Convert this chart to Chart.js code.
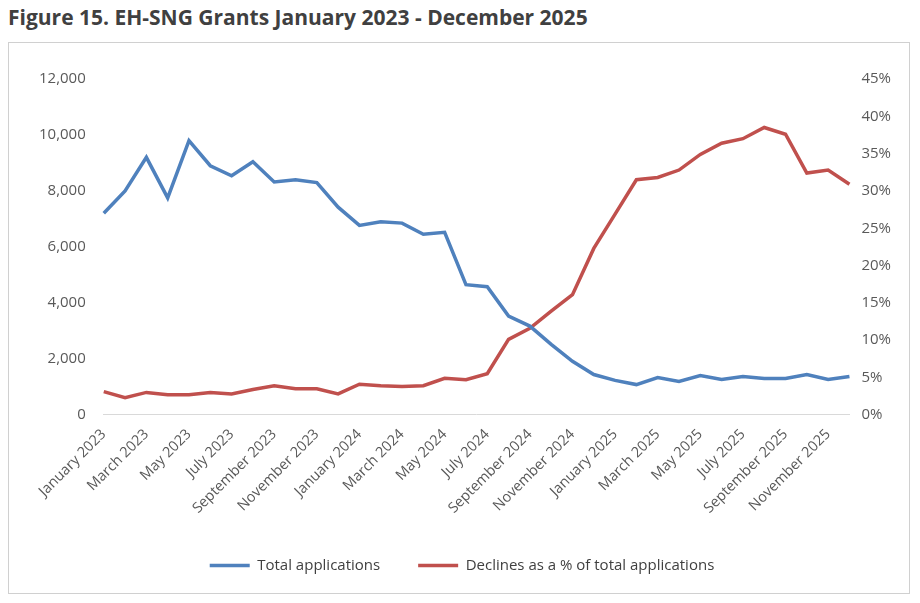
<!DOCTYPE html>
<html>
<head>
<meta charset="utf-8">
<script src="https://cdn.jsdelivr.net/npm/chart.js@4"></script>
<style>
  body { margin: 0; background: #fff; font-family: "Open Sans", sans-serif; }
  h1 { margin: 0; position: absolute; left: 8px; top: 3px; font-size: 21px; font-weight: bold; color: #404040; }
  .frame { position: absolute; left: 8px; top: 42px; width: 902px; height: 552px; border: 1px solid #d0d0d0; box-sizing: border-box; }
</style>
</head>
<body>
<h1>Figure 15. EH-SNG Grants January 2023 - December 2025</h1>
<div class="frame"><canvas id="chart"></canvas></div>
<script>
const months = ['January','February','March','April','May','June','July','August','September','October','November','December'];
const labels = [];
[2023, 2024, 2025].forEach(y => months.forEach(m => labels.push(m + ' ' + y)));

const totalApplications = [7200, 8000, 9200, 7750, 9800, 8900, 8540, 9040, 8320, 8400, 8300, 7420,
  6770, 6900, 6850, 6450, 6520, 4650, 4580, 3530, 3170, 2520, 1910, 1440,
  1230, 1080, 1330, 1190, 1400, 1260, 1370, 1300, 1300, 1440, 1260, 1370];
const declinesPct = [3.1, 2.3, 3.0, 2.7, 2.7, 3.0, 2.8, 3.4, 3.9, 3.5, 3.5, 2.8,
  4.1, 3.9, 3.8, 3.9, 4.9, 4.7, 5.5, 10.1, 11.6, 13.9, 16.1, 22.3,
  26.9, 31.5, 31.8, 32.8, 34.9, 36.4, 37.0, 38.5, 37.6, 32.4, 32.8, 30.9];

const canvas = document.getElementById('chart');
canvas.width = 900; canvas.height = 550;
canvas.style.width = '900px'; canvas.style.height = '550px';

new Chart(canvas, {
  type: 'line',
  data: {
    labels: labels,
    datasets: [{
      label: 'Total applications',
      data: totalApplications,
      borderColor: '#4f81bd',
      backgroundColor: '#4f81bd',
      borderWidth: 3.5,
      pointRadius: 0,
      yAxisID: 'y'
    }, {
      label: 'Declines as a % of total applications',
      data: declinesPct,
      borderColor: '#c0504d',
      backgroundColor: '#c0504d',
      borderWidth: 3.5,
      pointRadius: 0,
      yAxisID: 'y1'
    }]
  },
  options: {
    responsive: false,
    animation: false,
    layout: { padding: { left: 20, right: 14, top: 36, bottom: 10 } },
    plugins: {
      legend: {
        position: 'bottom',
        labels: {
          font: { size: 15, family: 'Open Sans' }, color: '#404040',
          boxWidth: 40, boxHeight: 0, padding: 38,
          generateLabels: chart => chart.data.datasets.map((d, i) => ({
            text: d.label, strokeStyle: d.borderColor, fillStyle: d.borderColor,
            lineWidth: 3.5, datasetIndex: i, fontColor: '#404040'
          }))
        }
      }
    },
    scales: {
      x: {
        grid: { display: false },
        border: { color: '#d9d9d9' },
        ticks: {
          autoSkip: false, maxRotation: 45, minRotation: 45,
          color: '#595959', font: { size: 14.5, family: 'Open Sans' },
          callback: (v, i) => i % 2 === 0 ? labels[i] : ''
        }
      },
      y: {
        position: 'left', min: 0, max: 12000,
        grid: { display: false }, border: { display: false },
        ticks: { stepSize: 2000, color: '#595959', font: { size: 15, family: 'Open Sans' },
          callback: v => v.toLocaleString('en-US'), padding: 10 }
      },
      y1: {
        position: 'right', min: 0, max: 45,
        grid: { display: false }, border: { display: false },
        ticks: { stepSize: 5, color: '#595959', font: { size: 15, family: 'Open Sans' },
          callback: v => v + '%', padding: 4 }
      }
    }
  }
});
</script>
</body>
</html>
